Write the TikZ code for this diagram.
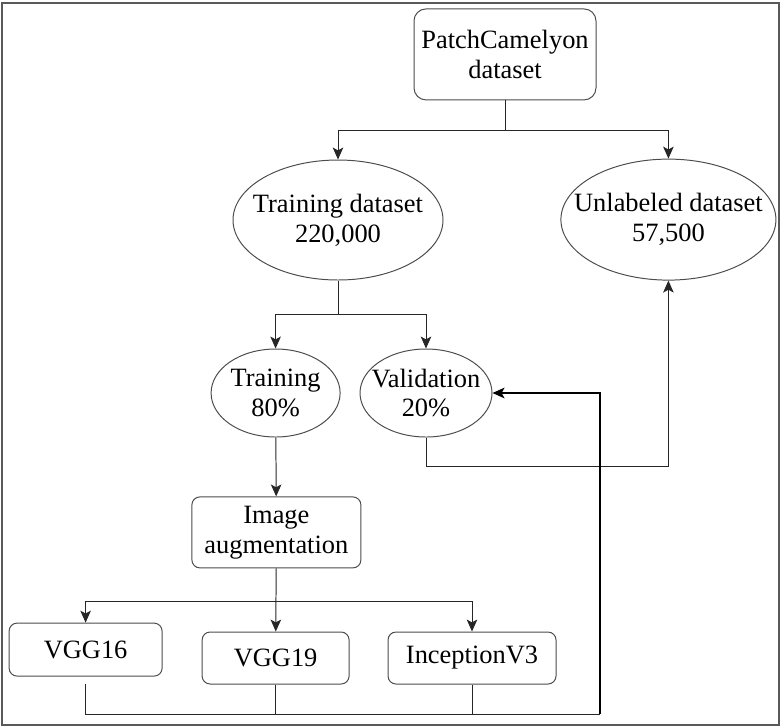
\documentclass[tikz,border=0pt]{standalone}
\usepackage{fontspec}
\setmainfont{Liberation Serif}
\usepackage{tikz}
\usetikzlibrary{shapes.geometric, arrows.meta}
\usepackage{xcolor}

\begin{document}
\begin{tikzpicture}
			\tikzstyle{block} = [rectangle,rounded corners=0.2cm,fill=white,draw=black!70,line width=0.7pt,align=center,inner sep=0pt,font=\fontsize{18.8}{21.3}\selectfont]
			\tikzstyle{oval} = [ellipse,fill=white,draw=black!70,line width=0.7pt,align=center,inner xsep=-25pt,inner ysep=0pt,font=\fontsize{18.8}{21.3}\selectfont]
			\tikzstyle{edge} = [-,line width=0.7pt,draw=black!85]
			\tikzstyle{arrow} = [-{Stealth[length=8.5pt,width=7.5pt,inset=2pt]},line width=0.7pt,draw=black!85]
			\useasboundingbox (0,0) rectangle (19.525,-18.175);
			\draw[black!65,line width=1.4pt] (0.05,-0.075) rectangle (19.475,-18.125);
			\node[block,rounded corners=0.3cm,minimum width=4.55cm,minimum height=2.275cm] (n1) at (12.625,-1.36) {PatchCamelyon\\dataset};
			\node[oval,minimum width=5.25cm,minimum height=3.0cm] (n2) at (8.45,-5.5) {Training dataset\\220,000};
			\node[oval,minimum width=5.375cm,minimum height=3.025cm] (n3) at (16.71,-5.49) {Unlabeled dataset\\57,500};
			\node[oval,minimum width=3.225cm,minimum height=2.2cm] (n4) at (6.89,-9.825) {Training\\80\%};
			\node[oval,minimum width=3.3cm,minimum height=2.2cm] (n5) at (10.65,-9.825) {Validation\\20\%};
			\node[block,minimum width=4.225cm,minimum height=1.775cm] (n6) at (6.91,-13.31) {Image\\augmentation};
			\node[block,minimum width=3.825cm,minimum height=1.325cm] (n7) at (2.14,-16.24) {VGG16};
			\node[block,minimum width=3.675cm,minimum height=1.3cm] (n8) at (6.89,-16.45) {VGG19};
			\node[block,minimum width=4.2cm,minimum height=1.3cm] (n9) at (11.8,-16.45) {InceptionV3};
			\coordinate (b1) at (12.625,-3.25);
			\coordinate (b2) at (8.45,-7.85);
			\coordinate (b3) at (6.89,-15.025);
			\coordinate (b4) at (10.65,-11.65);
			\coordinate (m1) at (15.0,-17.85);
			\draw[edge] (n1)--(b1);
			\draw[arrow] (b1)-|(n2);
			\draw[arrow] (b1)-|(n3);
			\draw[edge] (n2)--(b2);
			\draw[arrow] (b2)-|(n4);
			\draw[arrow] (b2)-|(n5);
			\draw[arrow] (n4)--(n6);
			\draw[arrow] (n6)--(n8);
			\draw[arrow] (b3)-|(n7);
			\draw[arrow] (b3)-|(n9);
			\draw[edge] (n5)--(b4);
			\draw[arrow] (b4)-|(n3);
			\draw[edge,shorten <=0.18cm] (n7.south)|-(m1);
			\draw[edge] (n8)|-(m1);
			\draw[edge] (n9)|-(m1);
			\draw[arrow,line width=1.4pt,draw=black] (m1)|-(n5);
			\end{tikzpicture}
\end{document}
